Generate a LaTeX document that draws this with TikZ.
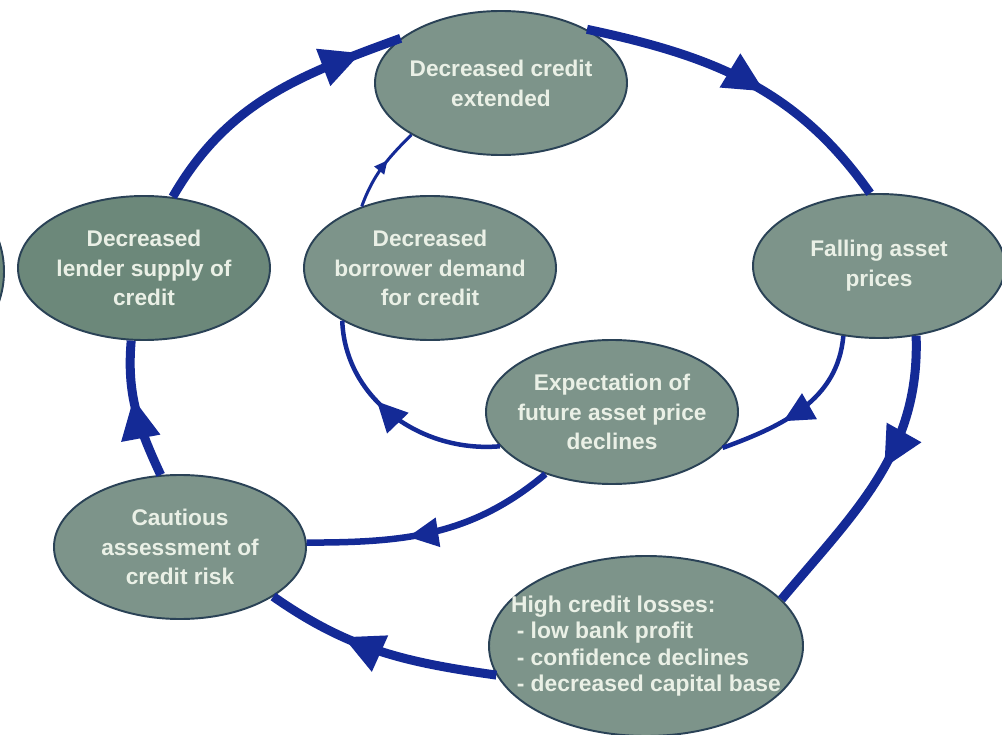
\documentclass[tikz,border=0pt]{standalone}
\usepackage{fontspec}
\setmainfont{Liberation Sans}
\usetikzlibrary{shapes.geometric, arrows.meta, decorations.markings}
\definecolor{ringblue}{RGB}{20,42,150}
\definecolor{bubblefill}{RGB}{125,148,138}
\definecolor{bubbledark}{RGB}{108,136,122}
\definecolor{bubbleline}{RGB}{42,66,86}
\definecolor{bubbletext}{RGB}{234,240,230}
\tikzset{
	bubble/.style={ellipse, draw=bubbleline, line width=1.1pt, fill=bubblefill, text=bubbletext, font=\bfseries\fontsize{12.9}{17}\selectfont, align=center, inner sep=-1cm, minimum width=5.04cm, minimum height=2.88cm},
	flow/.style n args={3}{color=ringblue, line width=#1, decoration={markings, mark=at position #2 with {\arrow{Triangle[length=#3, width=#3, line width=0pt]}}}, postaction={decorate}},
	outerflow/.style={flow={0.18cm}{#1}{0.8cm}},
	innerflow/.style={flow={0.09cm}{#1}{0.6cm}},
	thinflow/.style={flow={0.06cm}{#1}{0.26cm}}
}

\begin{document}
\begin{tikzpicture}
		\useasboundingbox (0,0) rectangle (20.04,-14.7);
		\begin{scope}
			\clip (0,0) rectangle (20.04,-14.7);
			\filldraw[fill=bubbledark, draw=bubbleline, line width=1.1pt] (-1.02,-5.43) ellipse (1.1cm and 1.44cm);
		\end{scope}
		\node[bubble] (ext) at (10.02,-1.66) {Decreased credit\\extended};
		\node[bubble, fill=bubbledark] (lender) at (2.88,-5.36) {Decreased\\lender supply of\\credit};
		\node[bubble] (borrow) at (8.6,-5.36) {Decreased\\borrower demand\\for credit};
		\node[bubble] (falling) at (17.58,-5.32) {Falling asset\\prices};
		\node[bubble] (expect) at (12.24,-8.24) {Expectation of\\future asset price\\declines};
		\node[bubble] (cautious) at (3.6,-10.94) {Cautious\\assessment of\\credit risk};
		\node[bubble, align=left, minimum width=6.28cm, minimum height=3.6cm, font=\bfseries\fontsize{13}{15}\selectfont] (losses) at (12.92,-12.92) {High credit losses:\\\hspace*{0.25em}- low bank profit\\\hspace*{0.25em}- confidence declines\\\hspace*{0.25em}- decreased capital base};
		\draw[outerflow=0.85] (lender.68) to[out=60,in=200] (ext.156);
		\draw[outerflow=0.56] (ext.32) to[out=-12,in=125] (falling.97);
		\draw[outerflow=0.45] (falling.-62) to[out=-88,in=50] (losses.19);
		\draw[outerflow=0.66] (losses.191) to[out=172,in=-35] (cautious.-28);
		\draw[outerflow=0.58] (cautious.105) to[out=115,in=-95] (lender.-100);
		\draw[thinflow=0.6] (borrow.138) to[out=70,in=225] (ext.210);
		\draw[innerflow=0.62] (falling.243) to[out=-95,in=20] (expect.-18);
		\draw[innerflow=0.6] (expect.197) to[out=185,in=-88] (borrow.211);
		\draw[innerflow=0.6, line width=0.13cm] (expect.223) to[out=220,in=0] (cautious.2);
	\end{tikzpicture}
\end{document}
